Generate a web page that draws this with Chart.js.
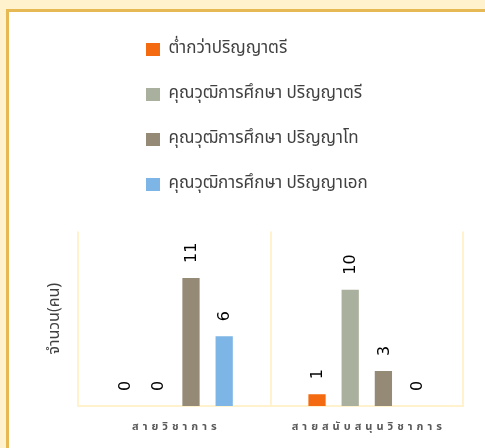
<!DOCTYPE html>
<html>
<head>
<meta charset="utf-8">
<script src="https://cdn.jsdelivr.net/npm/chart.js@4.4.1/dist/chart.umd.min.js"></script>
<style>
  html, body { margin: 0; padding: 0; }
  body { width: 485px; height: 448px; background: #FFF2CC; position: relative; overflow: hidden; }
  .panel { position: absolute; left: 6px; top: 9px; width: 600px; height: 600px;
           background: #fff; border: 3px solid #E6B955; box-sizing: border-box; }
  #wrap { position: absolute; left: 0; top: 0; width: 485px; height: 448px; }
</style>
</head>
<body>
<div class="panel"></div>
<div id="wrap"><canvas id="c" width="485" height="448"></canvas></div>
<script>
const categories = ['สายวิชาการ', 'สายสนับสนุนวิชาการ'];
const seriesNames = [
  'ต่ำกว่าปริญญาตรี',
  'คุณวุฒิการศึกษา ปริญญาตรี',
  'คุณวุฒิการศึกษา ปริญญาโท',
  'คุณวุฒิการศึกษา ปริญญาเอก'
];
const belowBachelor = [0, 1];
const bachelor = [0, 10];
const master = [11, 3];
const doctorate = [6, 0];
const yTitle = 'จำนวน(คน)';

const colors = ['#F46A10', '#AAB09E', '#958A75', '#7DB6E6'];
const thaiFont = "Tahoma, 'Noto Sans Thai', 'Noto Sans', sans-serif";

// rotated value labels above each bar
const valueLabels = {
  id: 'valueLabels',
  afterDatasetsDraw(chart) {
    const ctx = chart.ctx;
    ctx.save();
    ctx.font = "16px 'DejaVu Sans', sans-serif";
    ctx.fillStyle = '#000';
    ctx.textAlign = 'left';
    ctx.textBaseline = 'middle';
    chart.data.datasets.forEach((ds, i) => {
      chart.getDatasetMeta(i).data.forEach((bar, j) => {
        ctx.save();
        ctx.translate(bar.x, bar.y - 15);
        ctx.rotate(-Math.PI / 2);
        ctx.fillText(String(ds.data[j]), 0, 1);
        ctx.restore();
      });
    });
    ctx.restore();
  }
};

// category labels with letter spacing
const spacedTicks = {
  id: 'spacedTicks',
  afterDraw(chart) {
    const ctx = chart.ctx;
    const x = chart.scales.x;
    ctx.save();
    ctx.font = 'bold 11px ' + thaiFont;
    ctx.fillStyle = '#595959';
    ctx.textAlign = 'center';
    ctx.textBaseline = 'middle';
    ctx.letterSpacing = '4px';
    chart.data.labels.forEach((lab, i) => {
      ctx.fillText(lab, x.getPixelForTick(i) + 2, x.bottom + 22);
    });
    ctx.restore();
  }
};

// legend sits as a left-aligned column above the plot
const legendSpot = {
  id: 'legendSpot',
  afterLayout(chart) {
    const lg = chart.legend;
    const dx = 118 - lg.left;
    lg.left += dx; lg.right += dx;
    lg.top = 13;
    lg.bottom = 13 + 200;
    lg.height = 200;
  }
};

new Chart(document.getElementById('c'), {
  type: 'bar',
  data: {
    labels: categories,
    datasets: [
      { label: seriesNames[0], data: belowBachelor, backgroundColor: colors[0] },
      { label: seriesNames[1], data: bachelor, backgroundColor: colors[1] },
      { label: seriesNames[2], data: master, backgroundColor: colors[2] },
      { label: seriesNames[3], data: doctorate, backgroundColor: colors[3] }
    ]
  },
  options: {
    responsive: false,
    animation: false,
    categoryPercentage: 0.69,
    barPercentage: 0.52,
    layout: { padding: { left: 42, right: 22, top: 57, bottom: 42 } },
    scales: {
      x: {
        grid: { color: '#FFF2CC', lineWidth: 2, drawTicks: false },
        border: { color: '#FFF2CC', width: 2 },
        ticks: { display: false }
      },
      y: {
        min: 0,
        max: 15,
        grid: { display: false, drawTicks: false },
        border: { display: false },
        ticks: { display: false },
        title: {
          display: true,
          text: yTitle,
          color: '#404040',
          font: { size: 16, family: thaiFont },
          padding: { top: 4, bottom: 13 }
        }
      }
    },
    plugins: {
      legend: {
        position: 'top',
        align: 'start',
        labels: {
          color: '#404040',
          font: { size: 17, family: thaiFont },
          boxWidth: 14,
          boxHeight: 13,
          padding: 28
        }
      },
      tooltip: { enabled: false }
    }
  },
  plugins: [valueLabels, spacedTicks, legendSpot]
});
</script>
</body>
</html>
